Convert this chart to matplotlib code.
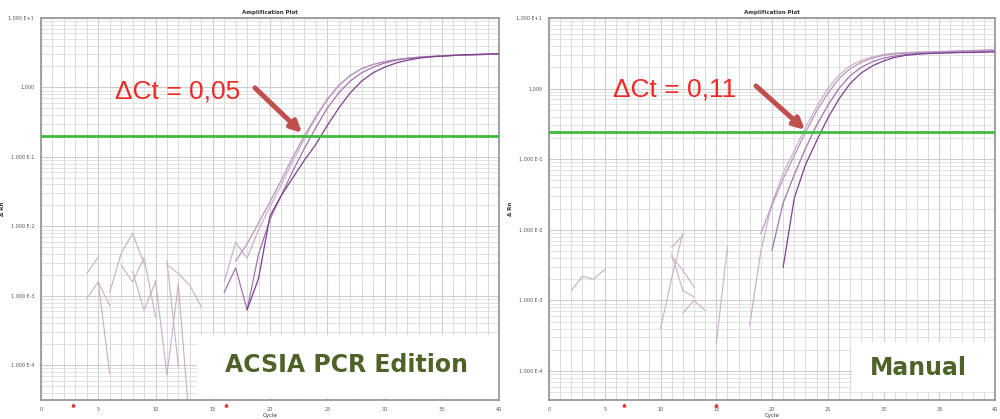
"""
两张 PCR 扩增曲线截图的复刻：左 ACSIA PCR Edition，右 Manual。
纵轴为 ΔRn（对数坐标），横轴为循环数 Cycle。
"""

import matplotlib.pyplot as plt
import numpy as np
from matplotlib.patches import Rectangle
from matplotlib.ticker import FixedLocator, MultipleLocator

# ---- 数据（ΔRn 以 log10 形式读出） ----
left_cycles = np.arange(16, 41)
left_curve_1 = [-2.80, -2.23, -2.46, -2.05, -1.72, -1.40, -1.06, -0.74, -0.44, -0.18, 0.02, 0.17, 0.27,
                0.33, 0.37, 0.40, 0.42, 0.435, 0.445, 0.455, 0.46, 0.465, 0.47, 0.475, 0.48]
left_curve_2 = [np.nan, -2.50, -2.25, -1.95, -1.65, -1.33, -1.00, -0.70, -0.42, -0.17, 0.03, 0.17, 0.27,
                0.33, 0.37, 0.40, 0.42, 0.435, 0.445, 0.455, 0.46, 0.465, 0.47, 0.475, 0.478]
left_curve_3 = [-2.95, -2.60, -3.20, -2.40, -1.90, -1.55, -1.20, -0.88, -0.58, -0.30, -0.08, 0.09, 0.21,
                0.29, 0.35, 0.39, 0.415, 0.43, 0.44, 0.45, 0.46, 0.465, 0.47, 0.475, 0.48]
left_curve_4 = [np.nan, np.nan, -3.20, -2.75, -1.85, -1.55, -1.30, -1.05, -0.82, -0.55, -0.30, -0.08, 0.09,
                0.21, 0.29, 0.35, 0.39, 0.42, 0.44, 0.45, 0.46, 0.47, 0.475, 0.48, 0.485]

# 基线噪声片段 (cycle, log10 ΔRn)
left_noise = [
    ([4, 5], [-2.68, -2.44]),
    ([4, 5, 6], [-3.04, -2.80, -3.14]),
    ([5, 6], [-2.80, -4.12]),
    ([6, 7, 8, 9], [-2.95, -2.39, -2.10, -2.54]),
    ([7, 8, 9, 10], [-2.56, -2.80, -2.45, -3.30]),
    ([8, 9, 10], [-2.65, -3.21, -2.80]),
    ([10, 11, 12], [-2.78, -4.14, -2.82]),
    ([11, 12], [-2.50, -4.02]),
    ([11, 12, 13, 14], [-2.55, -2.68, -2.85, -3.16]),
    ([12, 13], [-2.85, -4.90]),
]

right_cycles = np.arange(18, 41)
right_curve_1 = [-3.35, -2.30, -1.62, -1.20, -0.88, -0.55, -0.26, 0.00, 0.19, 0.32, 0.40, 0.45,
                 0.48, 0.50, 0.51, 0.515, 0.52, 0.525, 0.53, 0.535, 0.54, 0.545, 0.55]
right_curve_2 = [np.nan, -2.05, -1.65, -1.28, -0.95, -0.62, -0.32, -0.07, 0.14, 0.28, 0.37, 0.43,
                 0.47, 0.49, 0.50, 0.51, 0.515, 0.52, 0.525, 0.53, 0.535, 0.54, 0.545]
right_curve_3 = [np.nan, np.nan, -2.29, -1.62, -1.22, -0.85, -0.52, -0.24, 0.00, 0.18, 0.30, 0.38,
                 0.43, 0.46, 0.48, 0.495, 0.50, 0.505, 0.51, 0.515, 0.52, 0.52, 0.525]
right_curve_4 = [np.nan, np.nan, np.nan, -2.53, -1.55, -1.08, -0.74, -0.42, -0.15, 0.07, 0.22, 0.32,
                 0.39, 0.44, 0.47, 0.485, 0.495, 0.50, 0.505, 0.51, 0.51, 0.515, 0.52]

right_noise = [
    ([2, 3, 4, 5], [-2.86, -2.66, -2.70, -2.56]),
    ([10, 11, 12], [-3.40, -2.69, -2.05]),
    ([11, 12, 13], [-2.38, -2.57, -2.81]),
    ([11, 12, 13], [-2.34, -2.86, -2.95]),
    ([12, 13, 14], [-3.18, -3.00, -3.14]),
    ([11, 12], [-2.25, -2.08]),
    ([15, 16], [-3.61, -2.24]),
]

left_threshold = 0.197
right_threshold = 0.24
left_delta_ct = "ΔCt = 0,05"
right_delta_ct = "ΔCt = 0,11"
left_label = "ACSIA PCR Edition"
right_label = "Manual"
left_ct_marks = [2.8, 16.2]
right_ct_marks = [6.75, 15.0]

ytick_values = [1e-4, 1e-3, 1e-2, 1e-1, 1, 10]
ytick_labels = ["1.000 E-4", "1.000 E-3", "1.000 E-2", "1.000 E-1", "1.000", "1.000 E+1"]
xtick_values = [0, 5, 10, 15, 20, 25, 30, 35, 40]

CURVE_COLORS = ["#cbb0c8", "#b796be", "#a274b0", "#803f91"]
NOISE_COLOR = "#c8afc6"
GREEN = "#3fbb3f"
ARROW_RED = "#c0504d"
TEXT_RED = "#ee2a24"
OLIVE = "#4f6228"


def setup_axes(ax, ymin, title="Amplification Plot"):
    """网格、刻度、标签，模仿仪器软件的样子。"""
    ax.set_yscale("log")
    ax.set_xlim(0, 40)
    ax.set_ylim(ymin, 10)

    ax.xaxis.set_major_locator(FixedLocator(xtick_values))
    ax.xaxis.set_minor_locator(MultipleLocator(1))
    ax.yaxis.set_major_locator(FixedLocator(ytick_values))
    ax.set_yticklabels(ytick_labels)

    ax.grid(which="major", axis="both", color="#cdcdcd", lw=0.8)
    ax.grid(which="minor", axis="x", color="#dadada", lw=0.7)
    ax.grid(which="minor", axis="y", color="#dedede", lw=0.6)
    ax.set_axisbelow(True)

    ax.tick_params(which="both", length=0, labelsize=3.5, labelcolor="#555555", pad=5)
    for spine in ax.spines.values():
        spine.set_color("#9a9a9a")
        spine.set_linewidth(1.3)

    ax.set_title(title, fontsize=4, fontweight="bold", color="#333333", pad=3)
    ax.set_xlabel("Cycle", fontsize=4, color="#333333", labelpad=1)
    ax.set_ylabel("Δ Rn", fontsize=4, fontweight="bold", color="#333333", labelpad=2)


def draw_panel(ax, cycles, curves, noise, threshold, ct_marks):
    for seg_x, seg_y in noise:
        ax.plot(seg_x, np.power(10.0, seg_y), color=NOISE_COLOR, lw=0.8, zorder=2)

    for values, color in zip(curves, CURVE_COLORS):
        ax.plot(cycles, np.power(10.0, np.array(values)), color=color, lw=0.9, zorder=3)

    ax.axhline(threshold, color=GREEN, lw=2.0, zorder=4)

    # 底部的小红色 Ct 标记
    ax.plot(ct_marks, [-0.012] * len(ct_marks), ls="none", marker="^", ms=2.0,
            color="#e03030", transform=ax.get_xaxis_transform(), clip_on=False)


def add_callout(ax, text, text_xy, arrow_tail, arrow_tip):
    ax.text(*text_xy, text, transform=ax.transAxes, color=TEXT_RED, fontsize=19,
            family="Liberation Sans", va="baseline", ha="left", zorder=7)
    ax.annotate("", xy=arrow_tip, xytext=arrow_tail, xycoords="axes fraction",
                textcoords="axes fraction", zorder=7,
                arrowprops=dict(arrowstyle="-|>", lw=3.6, color=ARROW_RED, mutation_scale=16,
                                shrinkA=0, shrinkB=0))


def add_label_box(ax, text, box, center):
    x0, y0, x1, y1 = box
    ax.add_patch(Rectangle((x0, y0), x1 - x0, y1 - y0, transform=ax.transAxes,
                           facecolor="white", edgecolor="none", zorder=6))
    ax.text(*center, text, transform=ax.transAxes, ha="center", va="center",
            fontsize=17, fontweight="bold", color=OLIVE, family="DejaVu Sans", zorder=7)


def main() -> None:
    fig = plt.figure(figsize=(10, 4.19), dpi=100)
    fig.patch.set_facecolor("white")

    ax_left = fig.add_axes([0.041, 0.0453, 0.458, 0.912])
    ax_right = fig.add_axes([0.549, 0.0453, 0.446, 0.912])

    setup_axes(ax_left, 10 ** -4.5)
    setup_axes(ax_right, 10 ** -4.41)

    draw_panel(ax_left, left_cycles, [left_curve_1, left_curve_2, left_curve_3, left_curve_4],
               left_noise, left_threshold, left_ct_marks)
    draw_panel(ax_right, right_cycles, [right_curve_1, right_curve_2, right_curve_3, right_curve_4],
               right_noise, right_threshold, right_ct_marks)

    add_callout(ax_left, left_delta_ct, (0.161, 0.79), (0.467, 0.817), (0.570, 0.699))
    add_callout(ax_right, right_delta_ct, (0.143, 0.793), (0.464, 0.822), (0.574, 0.707))

    add_label_box(ax_left, left_label, (0.34, 0.005, 0.997, 0.17), (0.666, 0.092))
    add_label_box(ax_right, right_label, (0.68, 0.02, 0.997, 0.152), (0.828, 0.084))

    fig.savefig("out.png", dpi=100)
    plt.close(fig)


if __name__ == "__main__":
    main()
